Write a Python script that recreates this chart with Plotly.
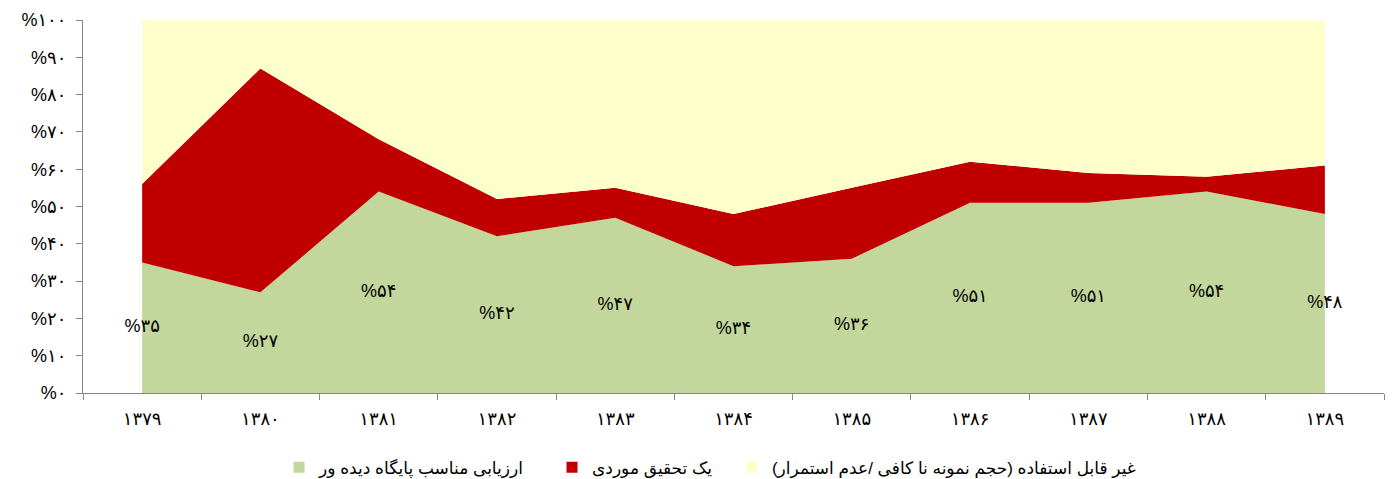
import plotly.graph_objects as go

years = ["۱۳۷۹", "۱۳۸۰", "۱۳۸۱", "۱۳۸۲", "۱۳۸۳", "۱۳۸۴", "۱۳۸۵", "۱۳۸۶", "۱۳۸۷", "۱۳۸۸", "۱۳۸۹"]
suitable = [35, 27, 54, 42, 47, 34, 36, 51, 51, 54, 48]
case_study = [21, 60, 14, 10, 8, 14, 19, 11, 8, 4, 13]
unusable = [100 - a - b for a, b in zip(suitable, case_study)]

series_names = [
    "ارزیابی مناسب پایگاه دیده ور",
    "یک تحقیق موردی",
    "غیر قابل استفاده (حجم نمونه نا کافی /عدم استمرار)",
]
colors = ["#C3D69B", "#C00000", "#FFFFCC"]
y_ticks = list(range(0, 101, 10))

PERSIAN = str.maketrans("0123456789", "۰۱۲۳۴۵۶۷۸۹")
def fa(n):
    return str(n).translate(PERSIAN)

FONT = "Arial, Liberation Sans, DejaVu Sans"

fig = go.Figure()
for name, vals, col in zip(series_names, [suitable, case_study, unusable], colors):
    fig.add_trace(go.Scatter(
        x=years, y=vals, stackgroup="one", mode="none",
        fillcolor=col, name=name, showlegend=False, hoverinfo="skip",
    ))

# data labels on the green area (centred)
fig.add_trace(go.Scatter(
    x=years, y=[v / 2 for v in suitable], mode="text",
    text=["%" + fa(v) for v in suitable],
    textfont=dict(family=FONT, size=18, color="#000000"),
    showlegend=False, hoverinfo="skip", cliponaxis=False,
))

legend_names = ["legend", "legend2", "legend3"]
for name, col, lg in zip(series_names, colors, legend_names):
    fig.add_trace(go.Scatter(
        x=[None], y=[None], mode="markers", name=name, legend=lg,
        marker=dict(symbol="square", size=11, color=col),
        showlegend=True,
    ))

leg_font = dict(family=FONT, size=17, color="#000000")
leg_common = dict(y=-0.2, xanchor="left", yanchor="middle", font=leg_font,
                  bgcolor="rgba(0,0,0,0)", itemclick=False, itemdoubleclick=False)
# the page body adds an 8px offset, so the figure is drawn 8px smaller
fig.update_layout(
    width=1389, height=471,
    margin=dict(l=75, r=13, t=12, b=86, autoexpand=False),
    plot_bgcolor="white", paper_bgcolor="white",
    legend=dict(x=0.1507, **leg_common),
    legend2=dict(x=0.3605, **leg_common),
    legend3=dict(x=0.4988, **leg_common),
    xaxis=dict(
        type="category", range=[-0.5, 10.5], tickson="boundaries", automargin=False,
        showgrid=False, showline=True, linecolor="#868686", linewidth=1,
        ticks="outside", ticklen=6, tickcolor="#868686",
        ticklabelstandoff=9,
        tickfont=dict(family=FONT, size=18, color="#000000"),
        fixedrange=True,
    ),
    yaxis=dict(
        range=[0, 100], tickvals=y_ticks, ticktext=["%" + fa(v) for v in y_ticks],
        automargin=False,
        showgrid=False, zeroline=False, showline=True, linecolor="#868686", linewidth=1,
        ticks="outside", ticklen=6, tickcolor="#868686",
        ticklabelstandoff=6,
        tickfont=dict(family=FONT, size=18, color="#000000"),
    ),
)

fig.write_html("out.html")
